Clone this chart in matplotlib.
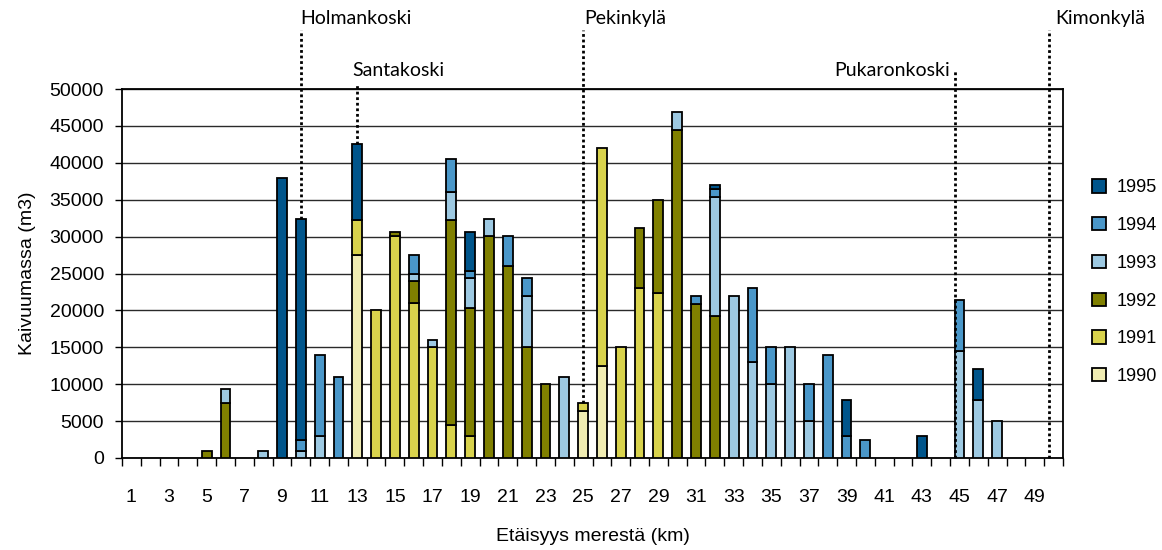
import numpy as np
import matplotlib
matplotlib.use("Agg")
import matplotlib.pyplot as plt
from matplotlib.transforms import blended_transform_factory

categories = list(range(1, 51))
years = ["1990", "1991", "1992", "1993", "1994", "1995"]

v1990 = {13: 27500, 25: 6400, 26: 12500}
v1991 = {13: 4800, 14: 20000, 15: 30100, 16: 21000, 17: 15000, 18: 4500, 19: 3000,
         25: 1000, 26: 29500, 27: 15000, 28: 23000, 29: 22400}
v1992 = {5: 1000, 6: 7400, 15: 500, 16: 3000, 18: 27800, 19: 17300, 20: 30100, 21: 26000,
         22: 15000, 23: 10000, 28: 8100, 29: 12500, 30: 44400, 31: 20900, 32: 19300}
v1993 = {6: 2000, 8: 1000, 10: 1000, 11: 3000, 16: 1000, 17: 1000, 18: 3700, 19: 4100,
         20: 2300, 22: 6900, 24: 11000, 30: 2500, 32: 16100, 33: 21900, 34: 13000,
         35: 10000, 36: 15000, 37: 5000, 45: 14500, 46: 7900, 47: 5000}
v1994 = {10: 1500, 11: 11000, 12: 11000, 16: 2500, 18: 4500, 19: 1000, 21: 4100, 22: 2500,
         31: 1000, 32: 1100, 34: 10000, 35: 5000, 37: 5000, 38: 14000, 39: 3000, 40: 2500,
         45: 6900}
v1995 = {9: 38000, 10: 29900, 13: 10300, 19: 5200, 32: 500, 39: 4900, 43: 3000, 46: 4100}

series = [v1990, v1991, v1992, v1993, v1994, v1995]
colors = ["#F0ECB2", "#D8D24C", "#808000", "#9DC9E2", "#4A97C9", "#00558B"]

places = ["Holmankoski", "Santakoski", "Pekinkylä", "Pukaronkoski", "Kimonkylä"]
place_x = [10, 13, 25, 44.75, 49.75]
place_base = [32400, 42600, 7400, 0, 0]

plt.rcParams['font.family'] = ['Liberation Sans', 'DejaVu Sans']
fig = plt.figure(figsize=(11.62, 5.5), dpi=100)
ax = fig.add_axes([122/1162, 1-458/550, (1063-122)/1162, (458-89)/550])

x = np.array(categories)
bottom = np.zeros(len(x))
handles = []
for yr, s, c in zip(years, series, colors):
    vals = np.array([s.get(k, 0) for k in categories], dtype=float)
    mask = vals > 0
    h = ax.bar(x[mask], vals[mask], bottom=bottom[mask], width=0.52, color=c,
               edgecolor='black', linewidth=1.3, zorder=3, label=yr)
    handles.append(h)
    bottom += vals

ax.set_xlim(0.5, 50.5)
ax.set_ylim(0, 50000)
ax.set_yticks(np.arange(0, 50001, 5000))
ax.yaxis.grid(True, color='#2a2a2a', linewidth=1.0, zorder=0)
ax.set_axisbelow(True)
for sp in ax.spines.values():
    sp.set_linewidth(1.3)
    sp.set_color('black')

ax.set_xticks(np.arange(1, 51, 2))
ax.set_xticks(np.arange(0.5, 51, 1), minor=True)
ax.tick_params(axis='x', which='major', length=0, pad=22, labelsize=14)
ax.tick_params(axis='x', which='minor', length=6, width=1, direction='out')
ax.tick_params(axis='y', which='major', length=5, width=1, direction='out', pad=8, labelsize=14)

ax.set_xlabel("Etäisyys merestä (km)", fontsize=14, labelpad=16)
ax.set_ylabel("Kaivuumassa (m3)", fontsize=14, labelpad=10)

trans = blended_transform_factory(ax.transData, ax.transAxes)
tops = [1.16, 1.011, 1.16, 1.05, 1.16]
for px, base, top in zip(place_x, place_base, tops):
    ax.plot([px, px], [base/50000, top], transform=trans, color='black',
            linestyle=(0, (1, 1)), linewidth=2.0, clip_on=False, zorder=5)

label_pos = [(9.96, 1.192, 'left'), (12.72, 1.049, 'left'), (25.05, 1.192, 'left'),
             (44.5, 1.049, 'right'), (50.08, 1.192, 'left')]
for name, (lx, ly, ha) in zip(places, label_pos):
    ax.text(lx, ly, name, transform=trans, ha=ha, va='center', fontsize=14,
            family=['Lato', 'DejaVu Sans'])

leg = fig.legend(handles[::-1], years[::-1], loc='upper left',
                 bbox_to_anchor=(1085/1162, 1-172/550), frameon=False, fontsize=13,
                 handlelength=0.75, handleheight=0.75, labelspacing=1.15,
                 handletextpad=0.6, borderaxespad=0)

fig.savefig("out.png", dpi=100)
